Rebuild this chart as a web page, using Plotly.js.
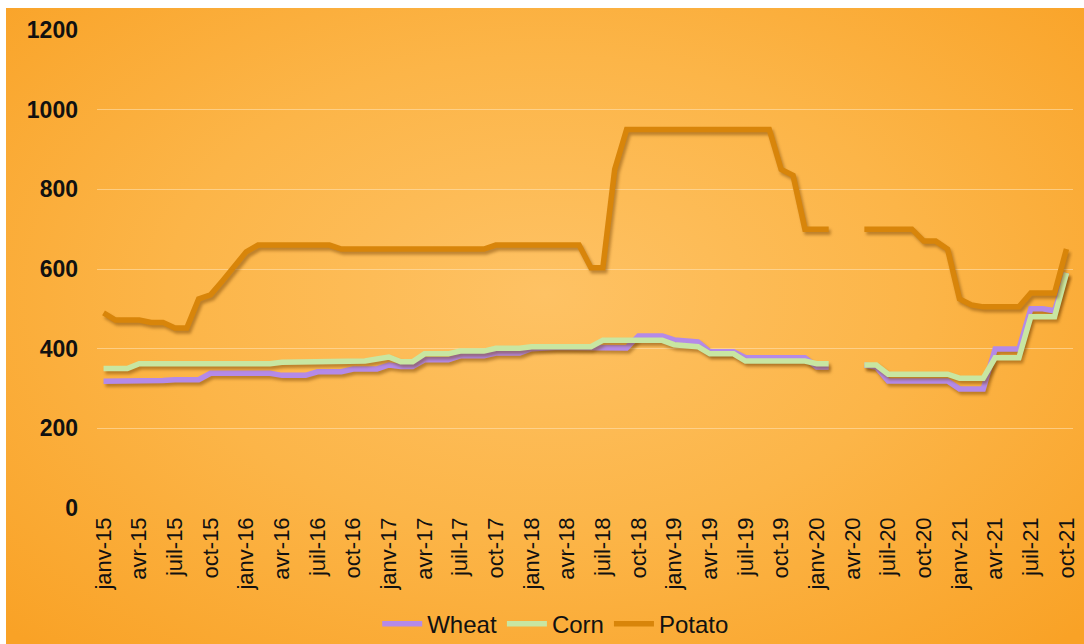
<!DOCTYPE html>
<html>
<head>
<meta charset="utf-8">
<script src="https://cdn.plot.ly/plotly-3.0.1.min.js"></script>
<style>
  html, body { margin: 0; padding: 0; background: #ffffff; }
  #bg { position: absolute; left: 6px; top: 8px; width: 1078px; height: 636px;
        background: radial-gradient(ellipse 70% 75% at 50% 45%, #FEC264 0%, #FCB548 50%, #F9A226 100%); }
  #chart { position: absolute; left: 0; top: 0; width: 1084px; height: 644px; }
  .scatterlayer .trace path.js-line { filter: drop-shadow(2px 3px 1.5px rgba(110,60,0,0.45)); }
</style>
</head>
<body>
<div id="bg"></div>
<div id="chart"></div>
<script>
const monthNames = ['janv','févr','mars','avr','mai','juin','juil','août','sept','oct','nov','déc'];
const years = ['15','16','17','18','19','20','21'];
const categories = [];
for (const y of years) for (const m of monthNames) categories.push(m + '-' + y);
categories.splice(82); // janv-15 .. oct-21

const wheat = [318,318,318,320,320,320,322,322,322,
  338,338,338,338,338,338,
  333,333,333,
  342,342,342,
  349,349,349,
  359,355,355,
  372,372,372,
  382,382,382,
  389,389,389,
  400,403,403,403,403,403,
  402,402,402,
  432,432,432,
  422,420,417,
  392,392,392,
  377,377,377,377,377,377,
  354,354,
  null,null,
  359,354,
  319,319,319,319,319,319,
  299,299,299,
  399,399,399,
  500,500,495,
  590];

const corn = [350,350,350,
  362,362,362,362,362,362,362,362,362,362,362,362,
  366,366,366,366,366,366,
  369,369,374,379,
  367,367,
  387,387,387,
  394,394,394,
  401,401,401,
  405,405,405,405,405,405,
  421,421,421,421,421,421,
  410,407,405,
  387,387,387,
  369,369,369,369,369,369,
  362,362,
  null,null,
  359,359,
  336,336,336,336,336,336,
  326,326,326,
  377,377,377,
  480,480,480,
  590];

const potato = [490,472,472,472,466,466,452,452,525,535,570,607,643,
  660,660,660,660,660,660,660,
  650,650,650,650,650,650,650,650,650,650,650,650,650,
  660,660,660,660,660,660,660,660,
  603,603,850,
  950,950,950,950,950,950,950,950,950,950,950,950,950,
  850,835,700,700,700,
  null,null,
  700,700,700,700,700,
  670,670,650,525,510,
  505,505,505,505,
  540,540,540,
  650];

const tickCats = categories.filter((c, i) => i % 3 === 0);

const seriesNames = ['Wheat','Corn','Potato'];
const seriesColors = ['#B48AE8','#C8E6A2','#D8850A'];
const seriesData = [wheat, corn, potato];

const traces = seriesNames.map((n, k) => ({
  type: 'scatter', mode: 'lines', name: n,
  x: categories, y: seriesData[k],
  line: { color: seriesColors[k], width: 5.5 },
  connectgaps: false
}));

const layout = {
  width: 1084, height: 644,
  paper_bgcolor: 'rgba(0,0,0,0)', plot_bgcolor: 'rgba(0,0,0,0)',
  margin: { l: 97, r: 11, t: 30, b: 136, autoexpand: false },
  font: { family: 'Liberation Sans, Arial, sans-serif', color: '#111111' },
  showlegend: true,
  legend: { orientation: 'h', x: 0.47, xanchor: 'center', y: -0.243, yanchor: 'middle',
            font: { size: 24, color: '#111111' }, bgcolor: 'rgba(0,0,0,0)', itemwidth: 40 },
  xaxis: {
    type: 'category', categoryorder: 'array', categoryarray: categories,
    range: [-0.55, 81.55],
    tickmode: 'array', tickvals: tickCats, ticktext: tickCats,
    tickangle: -90, tickfont: { size: 22, color: '#111111' },
    showgrid: false, showline: false, zeroline: false, ticks: '', ticklen: 0,
    ticklabelstandoff: 4
  },
  yaxis: {
    range: [0, 1200], tickvals: [0,200,400,600,800,1000,1200],
    tickfont: { size: 23, color: '#111111', weight: 'bold' },
    showgrid: true, gridcolor: 'rgba(255,230,185,0.55)', gridwidth: 1,
    zeroline: false, showline: false, ticks: '', ticklabelstandoff: 18
  }
};

Plotly.newPlot('chart', traces, layout, { displayModeBar: false, staticPlot: true });
</script>
</body>
</html>
